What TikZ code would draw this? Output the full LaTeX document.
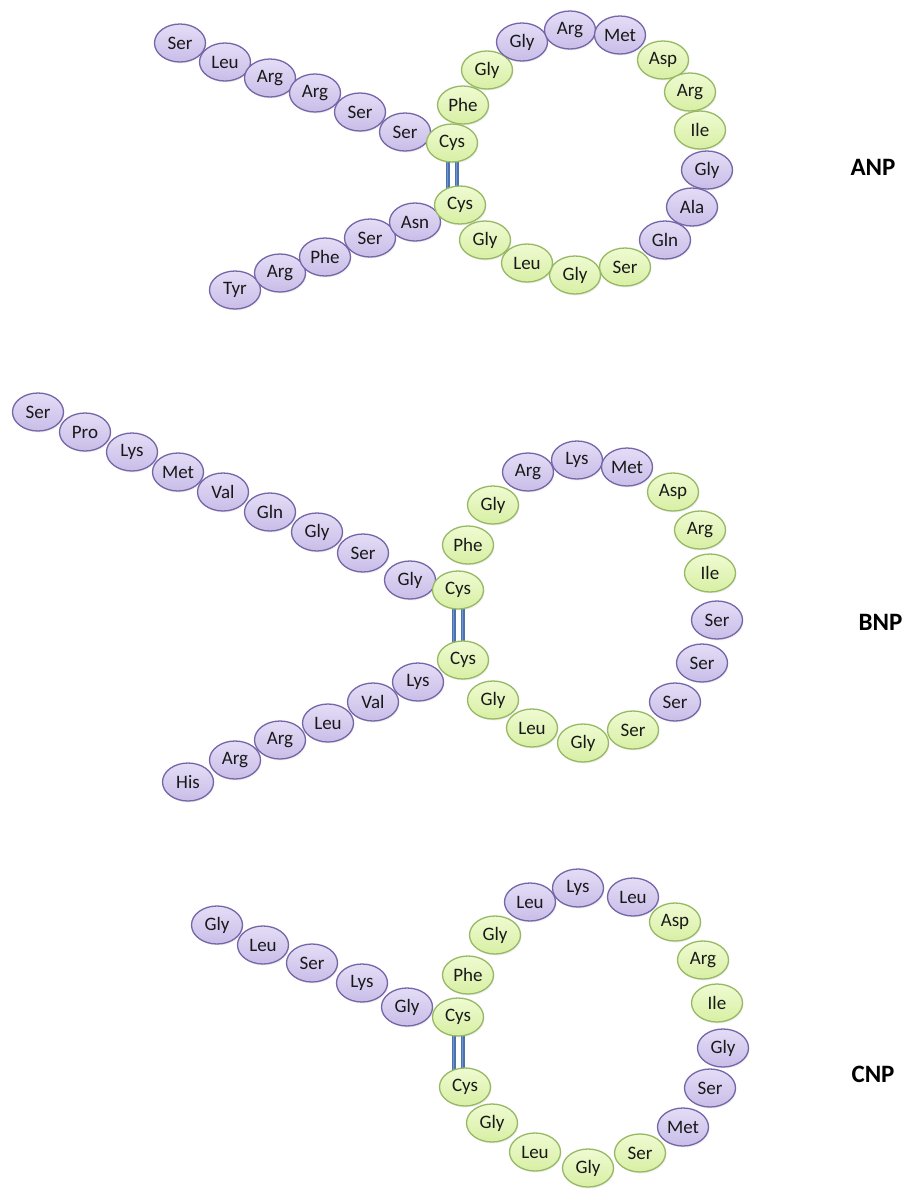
\documentclass[tikz,border=0pt]{standalone}
\usepackage{fontspec}
\setmainfont{Carlito}
\usetikzlibrary{shapes.geometric,shadows}
\pgfdeclarelayer{paper}
\pgfdeclarelayer{bg}
\pgfsetlayers{paper,bg,main}
\definecolor{pfillT}{HTML}{E4DDF6}
\definecolor{pfillB}{HTML}{C9BDE8}
\definecolor{pline}{HTML}{7566A8}
\definecolor{gfillT}{HTML}{EFFBD2}
\definecolor{gfillB}{HTML}{D8EFA4}
\definecolor{gline}{HTML}{97B964}
\definecolor{bondc}{HTML}{4A72AE}
\definecolor{bondl}{HTML}{7196CB}
\tikzset{
  aa/.style={ellipse, minimum width=51pt, minimum height=38pt, inner sep=0pt,
    line width=1.3pt, font=\fontsize{19}{19}\selectfont, text=black!90,
    drop shadow={opacity=0.12, shadow xshift=1pt, shadow yshift=-1.5pt}},
  pa/.style={aa, draw=pline, top color=pfillT, bottom color=pfillB},
  ga/.style={aa, draw=gline, top color=gfillT, bottom color=gfillB},
  bond/.style={line width=4pt, draw=bondc, shorten <=-4pt, shorten >=-4pt},
  bondhi/.style={line width=1.4pt, draw=bondl, shorten <=-4pt, shorten >=-4pt},
  lab/.style={font=\bfseries\fontsize{25}{25}\selectfont, anchor=west, text=black}
}
\begin{document}
\begin{tikzpicture}[x=1pt,y=-1pt]
\useasboundingbox (0,0) rectangle (919,1192);
\begin{pgfonlayer}{paper}
\fill[white] (0,0) rectangle (919,1192);
\end{pgfonlayer}

% ================= ANP =================
\node[pa] (a1) at (180,43) {Ser};
\node[pa] (a2) at (225,62) {Leu};
\node[pa] (a3) at (270,78) {Arg};
\node[pa] (a4) at (315,93) {Arg};
\node[pa] (a5) at (360,112) {Ser};
\node[pa] (a6) at (405,132) {Ser};
\node[pa] (ab1) at (235,290) {Tyr};
\node[pa] (ab2) at (280,273) {Arg};
\node[pa] (ab3) at (325,257) {Phe};
\node[pa] (ab4) at (370,238) {Ser};
\node[pa] (ab5) at (415,222) {Asn};
\node[ga] (ar1) at (463,105) {Phe};
\node[ga] (ar2) at (487,70) {Gly};
\node[pa] (ar3) at (522,42) {Gly};
\node[pa] (ar4) at (570,30) {Arg};
\node[pa] (ar5) at (620,35) {Met};
\node[ga] (ar6) at (663,60) {Asp};
\node[ga] (ar7) at (690,92) {Arg};
\node[ga] (ar8) at (700,130) {Ile};
\node[pa] (ar9) at (707,170) {Gly};
\node[pa] (ar10) at (692,207) {Ala};
\node[pa] (ar11) at (665,240) {Gln};
\node[ga] (ar12) at (625,267) {Ser};
\node[ga] (ar13) at (575,275) {Gly};
\node[ga] (ar14) at (527,263) {Leu};
\node[ga] (ar15) at (485,240) {Gly};
\node[ga] (actop) at (452,143) {Cys};
\node[ga] (acbot) at (460,205) {Cys};
\node[lab] (anp) at (847,167) {ANP};

% ================= BNP =================
\node[pa] (b1) at (38,412) {Ser};
\node[pa] (b2) at (85,432) {Pro};
\node[pa] (b3) at (132,452) {Lys};
\node[pa] (b4) at (178,472) {Met};
\node[pa] (b5) at (223,492) {Val};
\node[pa] (b6) at (270,512) {Gln};
\node[pa] (b7) at (317,532) {Gly};
\node[pa] (b8) at (363,553) {Ser};
\node[pa] (b9) at (410,580) {Gly};
\node[pa] (bb1) at (188,782) {His};
\node[pa] (bb2) at (235,760) {Arg};
\node[pa] (bb3) at (280,740) {Arg};
\node[pa] (bb4) at (328,723) {Leu};
\node[pa] (bb5) at (373,702) {Val};
\node[pa] (bb6) at (418,682) {Lys};
\node[ga] (br1) at (468,545) {Phe};
\node[ga] (br2) at (493,505) {Gly};
\node[pa] (br3) at (528,472) {Arg};
\node[pa] (br4) at (577,460) {Lys};
\node[pa] (br5) at (627,467) {Met};
\node[ga] (br6) at (673,492) {Asp};
\node[ga] (br7) at (700,530) {Arg};
\node[ga] (br8) at (710,573) {Ile};
\node[pa] (br9) at (717,620) {Ser};
\node[pa] (br10) at (702,663) {Ser};
\node[pa] (br11) at (675,702) {Ser};
\node[ga] (br12) at (633,730) {Ser};
\node[ga] (br13) at (583,743) {Gly};
\node[ga] (br14) at (532,728) {Leu};
\node[ga] (br15) at (493,700) {Gly};
\node[ga] (bctop) at (458,590) {Cys};
\node[ga] (bcbot) at (463,660) {Cys};
\node[lab] (bnp) at (855,622) {BNP};

% ================= CNP =================
\node[pa] (c1) at (217,925) {Gly};
\node[pa] (c2) at (263,945) {Leu};
\node[pa] (c3) at (312,963) {Ser};
\node[pa] (c4) at (362,983) {Lys};
\node[pa] (c5) at (407,1007) {Gly};
\node[ga] (cr1) at (468,975) {Phe};
\node[ga] (cr2) at (495,935) {Gly};
\node[pa] (cr3) at (530,902) {Leu};
\node[pa] (cr4) at (578,888) {Lys};
\node[pa] (cr5) at (633,897) {Leu};
\node[ga] (cr6) at (675,922) {Asp};
\node[ga] (cr7) at (703,960) {Arg};
\node[ga] (cr8) at (717,1003) {Ile};
\node[pa] (cr9) at (723,1048) {Gly};
\node[pa] (cr10) at (710,1088) {Ser};
\node[pa] (cr11) at (683,1127) {Met};
\node[ga] (cr12) at (640,1153) {Ser};
\node[ga] (cr13) at (588,1168) {Gly};
\node[ga] (cr14) at (535,1152) {Leu};
\node[ga] (cr15) at (492,1123) {Gly};
\node[ga] (cctop) at (458,1017) {Cys};
\node[ga] (ccbot) at (465,1087) {Cys};
\node[lab] (cnp) at (848,1074) {CNP};

% ================= disulfide bonds =================
\begin{pgfonlayer}{bg}
\foreach \t/\b in {actop/acbot, bctop/bcbot, cctop/ccbot}{
  \foreach \s in {-4.5,4.5}{
    \draw[bond] ([xshift=\s pt]\t.south) -- ([xshift=\s pt]\t.south |- \b.north);
    \draw[bondhi] ([xshift=\s pt]\t.south) -- ([xshift=\s pt]\t.south |- \b.north);
  }
}
\end{pgfonlayer}
\end{tikzpicture}
\end{document}
